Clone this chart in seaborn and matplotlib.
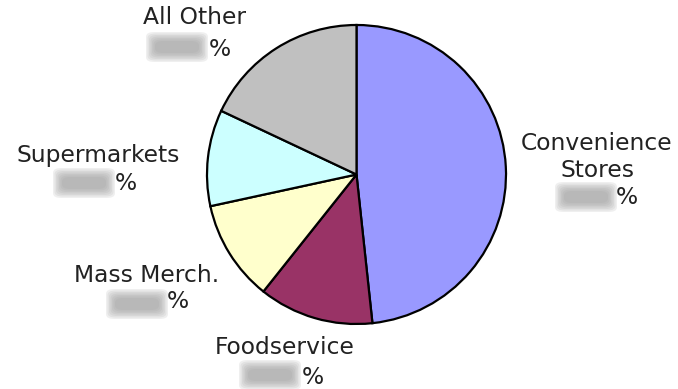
import matplotlib
matplotlib.use("Agg")
import matplotlib.pyplot as plt
import seaborn as sns
from matplotlib.patches import FancyBboxPatch

# ---- data ----
categories = ["Convenience\nStores", "Foodservice", "Mass Merch.", "Supermarkets", "All Other"]
shares = [48.3, 12.4, 10.9, 10.4, 18.0]
colors = ["#9999ff", "#993366", "#ffffcc", "#ccffff", "#c0c0c0"]

sns.set_theme(style="white")
plt.rcParams["font.family"] = ["DejaVu Sans"]

W, H = 678, 389
fig = plt.figure(figsize=(W / 100, H / 100), dpi=100)

cx, cy, r = 356.5, 174.5, 151
ax = fig.add_axes([(cx - r) / W, (H - cy - r) / H, 2 * r / W, 2 * r / H])
ax.pie(shares, colors=sns.color_palette(colors), startangle=90, counterclock=False,
       radius=1.0, wedgeprops=dict(edgecolor="black", linewidth=1.6))
ax.set_xlim(-1.01, 1.01)
ax.set_ylim(-1.01, 1.01)
ax.set_axis_off()

def fx(x):
    return x / W

def fy(y):
    return 1 - y / H

def blur_box(xc, yc, w, h):
    for k in range(7):
        grow = (6 - k) * 1.5
        b = FancyBboxPatch((fx(xc - w / 2 - grow), fy(yc + h / 2 + grow)),
                           (w + 2 * grow) / W, (h + 2 * grow) / H,
                           boxstyle="round,pad=0,rounding_size=0.012",
                           transform=fig.transFigure, facecolor="#999999",
                           edgecolor="none", alpha=0.15)
        fig.add_artist(b)

tc = "#222222"
fs = 16.8

# label positions (pixels): name center, box center, % position
labels = [
    (categories[0], 597, 157, 586, 197, 627, 198),
    (categories[1], 285, 348, 270, 375, 313, 377),
    (categories[2], 147, 275, 137, 304, 178, 302),
    (categories[3], 98, 155, 84, 183, 126, 183),
    (categories[4], 195, 18, 177, 47, 220, 49),
]
for name, nx, ny, bx, by, px, py in labels:
    fig.text(fx(nx), fy(ny), name, ha="center", va="center", fontsize=fs,
             color=tc, linespacing=1.25)
    blur_box(bx, by, 44, 12)
    fig.text(fx(px), fy(py), "%", ha="center", va="center", fontsize=fs, color=tc)

fig.savefig("out.png", dpi=100, facecolor="white")
